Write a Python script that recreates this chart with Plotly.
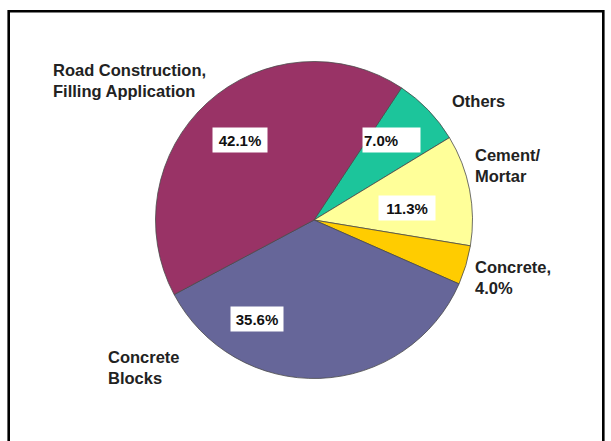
import plotly.graph_objects as go

# Uses of the material, share of total (%)
categories = ["Others", "Cement/Mortar", "Concrete", "Concrete Blocks",
              "Road Construction, Filling Application"]
shares = [7.0, 11.3, 4.0, 35.6, 42.1]
slice_colors = ["#1CC59B", "#FFFF99", "#FFCC00", "#666699", "#993366"]

W, H = 611, 441
cx, cy, r = 314, 220, 158.5   # pie centre and radius in pixels


def px_x(x):
    return x / W


def px_y(y):
    return 1 - y / H


fig = go.Figure(go.Pie(
    labels=categories,
    values=shares,
    sort=False,
    direction="clockwise",
    rotation=33.5,
    textinfo="none",
    hoverinfo="skip",
    showlegend=False,
    marker=dict(colors=slice_colors, line=dict(color="#4a4a4a", width=0.8)),
    domain=dict(x=[px_x(cx - r), px_x(cx + r)], y=[px_y(cy + r), px_y(cy - r)]),
))

font_lbl = dict(family="Arial, Liberation Sans, sans-serif", size=16.5, color="#222222", weight="bold")
font_pct = dict(family="Arial, Liberation Sans, sans-serif", size=15, color="#111111", weight="bold")

pct = {c: f"{v:.1f}%" for c, v in zip(categories, shares)}

# Percentage boxes inside the slices: (category, centre x, centre y, box width, align)
pct_boxes = [
    ("Road Construction, Filling Application", 239.5, 140.5, 52, "center"),
    ("Others", 391, 140, 55, "left"),
    ("Cement/Mortar", 406.5, 207.5, 54, "center"),
    ("Concrete Blocks", 256.5, 318.5, 50, "center"),
]
annotations = []
for cat, x, y, w, al in pct_boxes:
    annotations.append(dict(
        x=px_x(x), y=px_y(y), xref="paper", yref="paper",
        xanchor="center", yanchor="middle", showarrow=False,
        text=pct[cat], font=font_pct, bgcolor="white",
        width=w, height=22, align=al, borderpad=1,
    ))

# Outside category labels: (text, left x, centre y)
outer_labels = [
    ("Road Construction,<br>Filling Application", 51, 80),
    ("Others", 450, 101),
    ("Cement/<br>Mortar", 473, 165),
    ("Concrete,<br>" + pct["Concrete"], 473, 277),
    ("Concrete<br>Blocks", 106, 367),
]
for txt, x, y in outer_labels:
    annotations.append(dict(
        x=px_x(x), y=px_y(y), xref="paper", yref="paper",
        xanchor="left", yanchor="middle", showarrow=False,
        text=txt, font=font_lbl, align="left",
    ))

# Black frame around the chart (open at the bottom edge)
shapes = [dict(
    type="rect", xref="paper", yref="paper",
    x0=px_x(8.7), x1=px_x(603.3), y0=-0.2, y1=px_y(11.3),
    line=dict(color="black", width=2.6), fillcolor="rgba(0,0,0,0)",
)]

fig.update_layout(
    width=W, height=H,
    margin=dict(l=0, r=0, t=0, b=0),
    paper_bgcolor="white", plot_bgcolor="white",
    annotations=annotations, shapes=shapes,
)

fig.write_html("out.html")
